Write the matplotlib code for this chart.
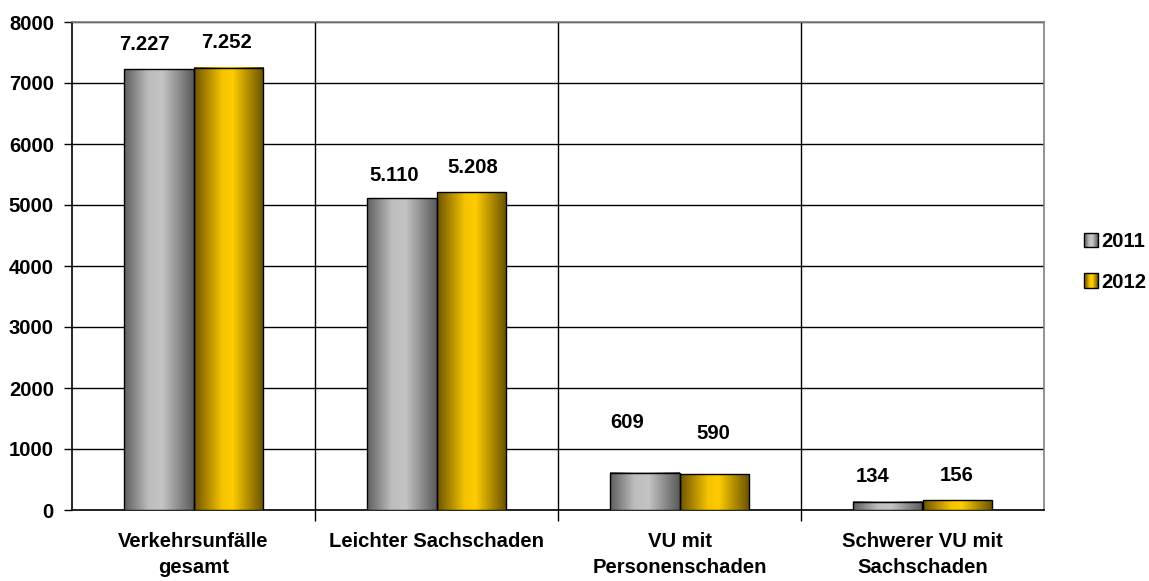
import numpy as np
import matplotlib
matplotlib.use('Agg')
import matplotlib.pyplot as plt
from matplotlib.patches import Patch
from matplotlib.legend_handler import HandlerPatch
from matplotlib.colors import LinearSegmentedColormap

# data
categories = ['Verkehrsunfälle\ngesamt', 'Leichter Sachschaden',
              'VU mit\nPersonenschaden', 'Schwerer VU mit\nSachschaden']
years = ['2011', '2012']
values_2011 = [7227, 5110, 609, 134]
values_2012 = [7252, 5208, 590, 156]
labels_2011 = ['7.227', '5.110', '609', '134']
labels_2012 = ['7.252', '5.208', '590', '156']

plt.rcParams['font.family'] = ['Liberation Sans', 'DejaVu Sans']
plt.rcParams['font.weight'] = 'bold'
fs = 14.6

# gradients like the old excel cylinder-ish fill
grey_cmap = LinearSegmentedColormap.from_list(
    'grey', [(0, '#5e5e5e'), (0.35, '#bdbdbd'), (0.55, '#c4c4c4'), (1, '#5a5a5a')])
gold_cmap = LinearSegmentedColormap.from_list(
    'gold', [(0, '#6e5400'), (0.4, '#f5c400'), (0.55, '#ffcc00'), (1, '#665000')])
grad = np.linspace(0, 1, 256).reshape(1, -1)

fig = plt.figure(figsize=(11.49, 5.81), dpi=100)
ax = fig.add_axes([72 / 1149, 1 - 510 / 581, (1044 - 72) / 1149, (510 - 22) / 581])

x = np.arange(len(categories))
w = 0.288
bars1 = ax.bar(x - w / 2, values_2011, w, facecolor='none', edgecolor='black', lw=1.0, zorder=4)
bars2 = ax.bar(x + w / 2, values_2012, w, facecolor='none', edgecolor='black', lw=1.0, zorder=4)

for bars, cmap in [(bars1, grey_cmap), (bars2, gold_cmap)]:
    for b in bars:
        x0, y0 = b.get_x(), b.get_y()
        ax.imshow(grad, cmap=cmap, aspect='auto', zorder=3, interpolation='bilinear',
                  extent=[x0, x0 + b.get_width(), y0, y0 + b.get_height()])

ax.set_xlim(-0.5, 3.5)
ax.set_ylim(0, 8000)

# value labels, offsets in pixels (excel put them a bit irregular)
off_2011 = [(-14, 25), (-7, 23), (-17, 50), (-15, 25)]
off_2012 = [(-2, 25), (1, 25), (-1, 41), (-1, 25)]
for bars, labs, offs in [(bars1, labels_2011, off_2011), (bars2, labels_2012, off_2012)]:
    for b, lab, (dx, dy) in zip(bars, labs, offs):
        ax.annotate(lab, (b.get_x() + b.get_width() / 2, b.get_height()),
                    xytext=(dx * 0.72, dy * 0.72), textcoords='offset points',
                    ha='center', va='center', fontsize=fs, fontweight='bold', zorder=5)

# grid
ax.set_yticks(np.arange(0, 8001, 1000))
ax.yaxis.grid(True, color='black', lw=1.0, zorder=1)
ax.set_xticks(x)
ax.set_xticklabels(categories, fontsize=fs, fontweight='bold', linespacing=1.45)
ax.set_xticks(np.arange(0.5, 3.5, 1), minor=True)
ax.xaxis.grid(True, which='minor', color='black', lw=1.0, zorder=1)
ax.tick_params(axis='x', which='major', length=0, pad=16)
ax.tick_params(axis='x', which='minor', length=8, width=1.0, direction='out')
ax.tick_params(axis='y', length=6, width=1.0, direction='out', labelsize=fs, pad=7)
for t in ax.get_yticklabels():
    t.set_fontweight('bold')
ax.set_axisbelow(True)

ax.spines['left'].set_color('black')
ax.spines['bottom'].set_color('black')
ax.spines['top'].set_color('#808080')
ax.spines['right'].set_color('#808080')
for s in ax.spines.values():
    s.set_linewidth(1.2)


# legend with little gradient squares
class GradHandler(HandlerPatch):
    def __init__(self, cmap):
        super().__init__()
        self.cmap = cmap

    def create_artists(self, legend, orig_handle, xdescent, ydescent, width, height, fontsize, trans):
        arts = []
        n = 12
        for i in range(n):
            r = plt.Rectangle((-xdescent + width * i / n, -ydescent), width / n, height,
                              facecolor=self.cmap((i + 0.5) / n), edgecolor='none', transform=trans)
            arts.append(r)
        frame = plt.Rectangle((-xdescent, -ydescent), width, height, facecolor='none',
                              edgecolor='black', lw=1.0, transform=trans)
        arts.append(frame)
        return arts


h1 = Patch(label=years[0])
h2 = Patch(label=years[1])
fig.legend([h1, h2], years, loc='center left', bbox_to_anchor=(1066 / 1149, 1 - 262 / 581),
           frameon=False, prop={'size': fs, 'weight': 'bold'},
           handlelength=0.7, handleheight=0.7, handletextpad=0.15, labelspacing=1.05,
           handler_map={h1: GradHandler(grey_cmap), h2: GradHandler(gold_cmap)})

fig.savefig('out.png', dpi=100)
